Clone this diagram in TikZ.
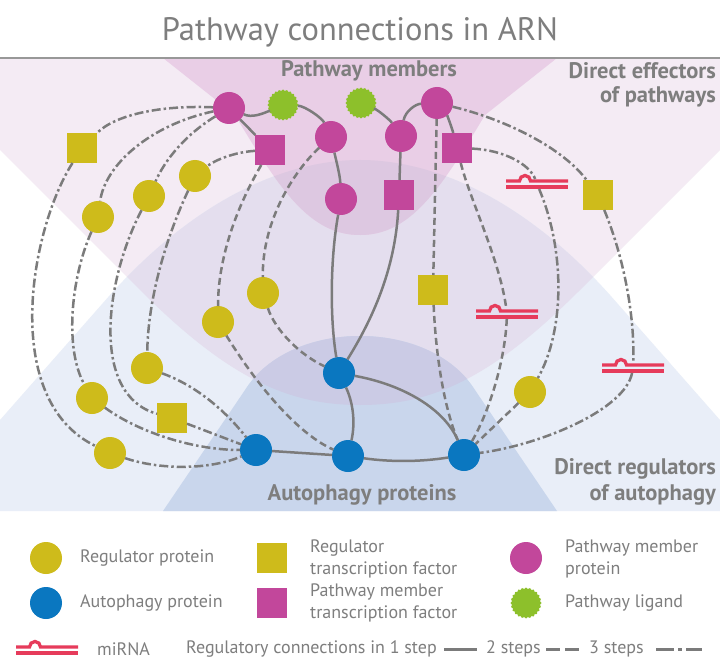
\documentclass[tikz,border=0pt]{standalone}
\usepackage{fontspec}
\setmainfont{PT Sans}
\usetikzlibrary{shapes.geometric}
\definecolor{cPone}{HTML}{F4EBF4}
\definecolor{cBone}{HTML}{E9EEF8}
\definecolor{cPB}{HTML}{E4DEEE}
\definecolor{cPtwo}{HTML}{E9CEE6}
\definecolor{cPtwoB}{HTML}{DDC8E1}
\definecolor{cBtwo}{HTML}{C9D6EC}
\definecolor{cBtwoP}{HTML}{CBCBE5}
\definecolor{cM}{HTML}{C2479B}
\definecolor{cY}{HTML}{CEBB1B}
\definecolor{cB}{HTML}{0A77C0}
\definecolor{cG}{HTML}{8DC02B}
\definecolor{cR}{HTML}{E63B5B}
\definecolor{cE}{HTML}{7B7B7B}
\definecolor{cT}{HTML}{7E7E7E}
\begin{document}
\begin{tikzpicture}[x=1pt,y=-1pt,
  base/.style={inner sep=0pt, outer sep=0pt},
  yc/.style={base, circle, fill=cY, minimum size=32pt},
  bc/.style={base, circle, fill=cB, minimum size=32pt},
  mc/.style={base, circle, fill=cM, minimum size=32pt},
  ysq/.style={base, rectangle, fill=cY, minimum size=30pt},
  msq/.style={base, rectangle, fill=cM, minimum size=30pt},
  lig/.style={base, star, star points=24, star point ratio=1.1, fill=cG, minimum size=31pt},
  mirna/.style={base, rectangle, minimum width=62pt, minimum height=10pt},
  mirnaline/.style={draw=cR, line width=3.3pt},
  e1/.style={draw=cE, line width=2.5pt},
  e2/.style={e1, dash pattern=on 7pt off 4pt},
  e3/.style={e1, dash pattern=on 9pt off 3pt on 2.5pt off 3pt},
  hdr/.style={text=cT, font=\bfseries\fontsize{22.5}{26}\selectfont, inner sep=0pt},
  lab/.style={text=cT, font=\fontsize{18}{22}\selectfont, inner sep=0pt, anchor=west, align=left},
]
\newcommand{\mirnaat}[1]{%
  \begin{scope}[shift={(#1.center)}]
    \draw[mirnaline] (-31,3) -- (31,3);
    \draw[mirnaline] (-31,-3) -- (-17.5,-3) arc (180:360:5.5) -- (31,-3);
  \end{scope}}
\useasboundingbox (0,0) rectangle (720,671);
\fill[white] (0,0) rectangle (720,671);
% background regions
\def\pathPone{(0,58) -- (720,58) -- (720,150) -- (580,290) .. controls (490,380) and (430,405) .. (360,405) .. controls (290,405) and (230,380) .. (140,290) -- (0,150) -- cycle}
\def\pathBone{(0,511) -- (0,420) -- (110,295) .. controls (200,195) and (290,160) .. (360,160) .. controls (430,160) and (520,195) .. (610,295) -- (720,420) -- (720,511) -- cycle}
\def\pathPtwo{(163,58) -- (557,58) -- (485,115) .. controls (440,190) and (410,235) .. (360,235) .. controls (310,235) and (280,190) .. (235,115) -- cycle}
\def\pathBtwo{(163,511) -- (245,390) .. controls (290,318) and (430,318) .. (475,390) -- (557,511) -- cycle}
\fill[cPone] \pathPone;
\fill[cBone] \pathBone;
\begin{scope}\clip \pathPone; \fill[cPB] \pathBone;\end{scope}
\fill[cPtwo] \pathPtwo;
\begin{scope}\clip \pathBone; \fill[cPtwoB] \pathPtwo;\end{scope}
\fill[cBtwo] \pathBtwo;
\begin{scope}\clip \pathPone; \fill[cBtwoP] \pathBtwo;\end{scope}
\draw[color=cT!80, line width=1.4pt] (0,58) -- (720,58);
% title and region labels
\node[text=cT, inner sep=0pt, font=\fontsize{32.5}{38}\selectfont] (title) at (360,32) {Pathway connections in ARN};
\node[hdr] (hPM) at (369,71) {Pathway members};
\node[hdr, anchor=east] (hDE) at (716,71) {Direct effectors};
\node[hdr, anchor=east] (hDE2) at (716,97) {of pathways};
\node[hdr, anchor=east] (hDR) at (716,469) {Direct regulators};
\node[hdr, anchor=east] (hDR2) at (716,495) {of autophagy};
\node[hdr] (hAP) at (362,495) {Autophagy proteins};
% nodes
\node[mc] (M1) at (229,108) {};
\node[mc] (M2) at (331,137) {};
\node[mc] (M3) at (401,136) {};
\node[mc] (M4) at (437,103) {};
\node[mc] (M5) at (341,199) {};
\node[lig] (G1) at (283,105) {};
\node[lig] (G2) at (361,103) {};
\node[msq] (MS1) at (270,150) {};
\node[msq] (MS2) at (457,148) {};
\node[msq] (MS3) at (399,195) {};
\node[ysq] (Y1) at (82,148) {};
\node[ysq] (Y2) at (598,195) {};
\node[ysq] (Y3) at (433,290) {};
\node[ysq] (Y4) at (172,418) {};
\node[yc] (C1) at (98,217) {};
\node[yc] (C2) at (149,196) {};
\node[yc] (C3) at (195,176) {};
\node[yc] (C4) at (263,293) {};
\node[yc] (C5) at (218,322) {};
\node[yc] (C6) at (147,368) {};
\node[yc] (C7) at (92,398) {};
\node[yc] (C8) at (110,453) {};
\node[yc] (C9) at (530,392) {};
\node[bc] (B1) at (339,373) {};
\node[bc] (B2) at (256,450) {};
\node[bc] (B3) at (348,456) {};
\node[bc] (B4) at (464,455) {};
\node[mirna] (R1) at (537,184) {};
\node[mirna] (R2) at (507,314) {};
\node[mirna] (R3) at (633,368) {};
\mirnaat{R1}\mirnaat{R2}\mirnaat{R3}
% 1-step connections
\draw[e1] (M1) .. controls (252,118) and (262,114) .. (G1);
\draw[e1] (M1) -- (MS1);
\draw[e1] (G1) .. controls (305,106) and (322,118) .. (M2);
\draw[e1] (M2) .. controls (336,160) and (340,175) .. (M5);
\draw[e1] (G2) .. controls (378,110) and (390,120) .. (M3);
\draw[e1] (M3) .. controls (405,112) and (415,104) .. (M4);
\draw[e1] (M3) -- (MS3);
\draw[e1] (M4) .. controls (447,115) and (452,128) .. (MS2);
\draw[e1] (M5) .. controls (330,260) and (330,320) .. (B1);
\draw[e1] (MS3) .. controls (395,270) and (372,320) .. (B1);
\draw[e1] (B1) .. controls (352,400) and (356,420) .. (B3);
\draw[e1] (B1) .. controls (405,385) and (445,410) .. (B4);
\draw[e1] (B2) -- (B3);
\draw[e1] (B3) .. controls (390,462) and (420,462) .. (B4);
% 2-step connections
\draw[e2] (MS1) .. controls (235,210) and (218,260) .. (C5);
\draw[e2] (M2) .. controls (295,170) and (262,220) .. (C4);
\draw[e2] (C4) .. controls (275,330) and (300,355) .. (B1);
\draw[e2] (C5) .. controls (260,390) and (300,435) .. (B3);
\draw[e2] (M4) -- (Y3);
\draw[e2] (Y3) .. controls (436,360) and (445,410) .. (B4);
\draw[e2] (MS2) .. controls (470,200) and (500,260) .. (R2);
\draw[e2] (R2) .. controls (505,360) and (490,410) .. (B4);
\draw[e2] (C9) -- (B4);
% 3-step connections
\draw[e3] (M1) .. controls (160,105) and (115,115) .. (Y1);
\draw[e3] (M1) .. controls (150,125) and (105,165) .. (C1);
\draw[e3] (M1) .. controls (185,135) and (165,160) .. (C2);
\draw[e3] (MS1) .. controls (235,152) and (215,160) .. (C3);
\draw[e3] (Y1) .. controls (30,230) and (0,400) .. (C8);
\draw[e3] (C8) .. controls (160,470) and (210,470) .. (B2);
\draw[e3] (C1) .. controls (70,280) and (65,350) .. (C7);
\draw[e3] (C7) .. controls (135,430) and (190,450) .. (B2);
\draw[e3] (C2) .. controls (105,280) and (90,395) .. (Y4);
\draw[e3] (Y4) -- (B2);
\draw[e3] (C3) .. controls (165,240) and (148,300) .. (C6);
\draw[e3] (C6) .. controls (195,385) and (225,410) .. (B2);
\draw[e3] (M4) .. controls (500,118) and (560,145) .. (Y2);
\draw[e3] (Y2) .. controls (625,260) and (635,320) .. (R3);
\draw[e3] (R3) .. controls (625,410) and (540,445) .. (B4);
\draw[e3] (MS2) .. controls (505,150) and (530,165) .. (R1);
\draw[e3] (R1) .. controls (565,250) and (565,330) .. (C9);
% legend
\node[yc] (LYC) at (46,558) {};
\node[lab] (tYC) at (80,558) {Regulator protein};
\node[ysq] (LYS) at (272,558) {};
\node[lab] (tYS) at (310,559) {Regulator\\transcription factor};
\node[mc] (LMC) at (526,558) {};
\node[lab] (tMC) at (565,559) {Pathway member\\protein};
\node[bc] (LBC) at (46,603) {};
\node[lab] (tBC) at (80,603) {Autophagy protein};
\node[msq] (LMS) at (272,603) {};
\node[lab] (tMS) at (310,603) {Pathway member\\transcription factor};
\node[lig] (LG) at (526,603) {};
\node[lab] (tG) at (565,603) {Pathway ligand};
\node[mirna] (LR) at (47,650) {};
\mirnaat{LR}
\node[lab] (tR) at (97,649) {miRNA};
\node[lab] (tC1) at (186,649) {Regulatory connections in 1 step};
\draw[e1, line width=3pt] (444,649) -- (477,649);
\node[lab] (tC2) at (486,649) {2 steps};
\draw[e1, line width=3pt, dash pattern=on 14pt off 5pt] (546,649) -- (579,649);
\node[lab] (tC3) at (589,649) {3 steps};
\draw[e1, line width=3pt, dash pattern=on 18pt off 4pt on 4pt off 4pt] (656,649) -- (702,649);
\end{tikzpicture}
\end{document}
